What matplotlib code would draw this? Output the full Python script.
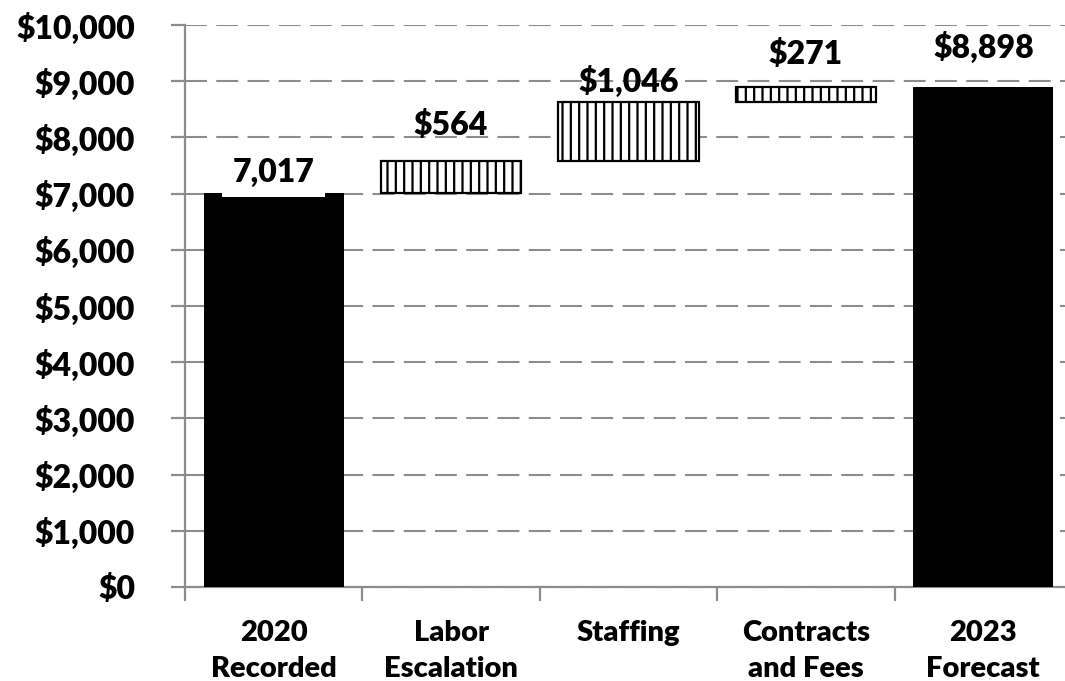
import matplotlib.pyplot as plt
from matplotlib.ticker import FuncFormatter, FixedLocator

plt.rcParams['font.family'] = ['Lato', 'DejaVu Sans']
plt.rcParams['font.weight'] = 'heavy'
plt.rcParams['hatch.linewidth'] = 1.6

categories = ['2020\nRecorded', 'Labor\nEscalation', 'Staffing',
              'Contracts\nand Fees', '2023\nForecast']
start_total = 7017
increases = [564, 1046, 271]
end_total = 8898
value_labels = ['7,017', '$564', '$1,046', '$271', '$8,898']

fig = plt.figure(figsize=(10.65, 6.81), dpi=100)
ax = fig.add_axes([185 / 1065, 1 - 587 / 681, 887 / 1065, 562 / 681])

# running bottoms for the floating bars
bottoms = []
level = start_total
for inc in increases:
    bottoms.append(level)
    level += inc

x = list(range(len(categories)))
ax.bar(0, start_total, width=0.79, color='black', zorder=3)
ax.bar(x[1:4], increases, bottom=bottoms, width=0.79, color='white',
       edgecolor='black', hatch='||', linewidth=1.6, zorder=3)
ax.bar(4, end_total, width=0.79, color='black', zorder=3)

tops = [start_total] + [b + i for b, i in zip(bottoms, increases)] + [end_total]
gaps = [11, 26, 10, 23, 29]  # pixel gap between bar top and label baseline
for i, (top, lab) in enumerate(zip(tops, value_labels)):
    kw = {}
    if i == 0:
        kw['bbox'] = dict(facecolor='white', edgecolor='none',
                          boxstyle='square,pad=0.33')
    ax.annotate(lab, (i, top), xytext=(0, gaps[i]), textcoords='offset pixels',
                ha='center', va='baseline', fontsize=23, fontweight='heavy',
                zorder=5, **kw)

ax.set_ylim(0, 10000)
ax.set_xlim(-0.5, 4.5)
ax.set_yticks(range(0, 10001, 1000))
ax.yaxis.set_major_formatter(FuncFormatter(lambda v, p: '${:,.0f}'.format(v)))
ax.yaxis.grid(True, color='#8c8c8c', linestyle=(0, (10.5, 4.5)), linewidth=1.5, zorder=0)

ax.set_xticks(x)
ax.set_xticklabels(categories, fontsize=21, fontweight='heavy', linespacing=1.45)
ax.tick_params(axis='x', which='major', length=0, pad=24)
ax.xaxis.set_minor_locator(FixedLocator([i - 0.5 for i in range(6)]))
ax.tick_params(axis='x', which='minor', length=10, width=1.6, color='#8c8c8c')
ax.tick_params(axis='y', length=10, width=1.6, color='#8c8c8c', labelsize=23, pad=26)

for side in ['top', 'right']:
    ax.spines[side].set_visible(False)
for side in ['left', 'bottom']:
    ax.spines[side].set_color('#8c8c8c')
    ax.spines[side].set_linewidth(1.6)

fig.savefig('out.png', dpi=100)
